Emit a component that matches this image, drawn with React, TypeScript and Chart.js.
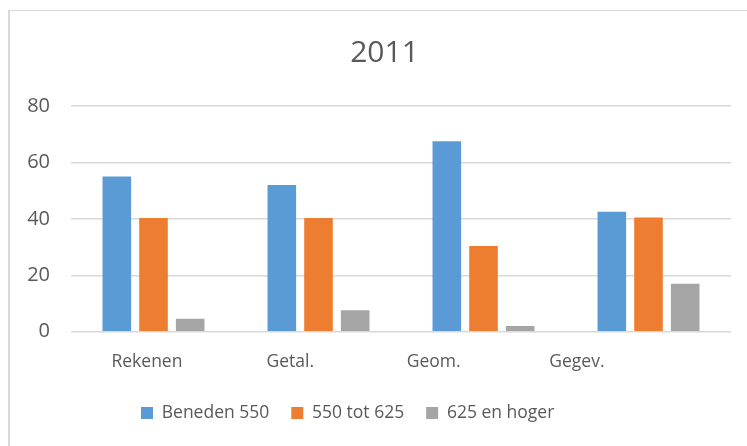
import React, { useEffect, useRef } from "react";
import { Chart, registerables } from "chart.js";

Chart.register(...registerables);

const categories = ["Rekenen", "Getal.", "Geom.", "Gegev."];
const beneden550 = [55, 52, 67.5, 42.5];
const tot625 = [40.3, 40.3, 30.4, 40.5];
const hoger625 = [4.6, 7.6, 2, 17];
const seriesNames = ["Beneden 550", "550 tot 625", "625 en hoger"];
const yTicks = [0, 20, 40, 60, 80];
const titleText = "2011";

const TEXT = "#595959";
const FONT = "'Open Sans', sans-serif";

const shiftPlugin = {
  id: "shiftBlocks",
  afterLayout(chart: any) {
    const t = chart.titleBlock;
    if (t) {
      const w = t.right - t.left;
      t.left = 19;
      t.right = 19 + w;
    }
    const l = chart.legend;
    if (l && l.lineWidths) {
      const w = l.right - l.left;
      const p = l.options.labels.padding;
      const LW = l.lineWidths[0];
      const L = (2 * 141 - p - w + LW) / 2;
      l.left = L;
      l.right = L + w;
      const h = l.bottom - l.top;
      l.top = 413 - p - l.options.labels.font.size / 2;
      l.bottom = l.top + h;
    }
  },
};

export default function App() {
  const ref = useRef<HTMLCanvasElement | null>(null);

  useEffect(() => {
    if (!ref.current) return;
    const chart = new Chart(ref.current, {
      type: "bar",
      data: {
        labels: categories,
        datasets: [
          { label: seriesNames[0], data: beneden550, backgroundColor: "#5B9BD5" },
          { label: seriesNames[1], data: tot625, backgroundColor: "#ED7D31" },
          { label: seriesNames[2], data: hoger625, backgroundColor: "#A5A5A5" },
        ],
      },
      options: {
        responsive: false,
        animation: false,
        datasets: { bar: { categoryPercentage: 0.667, barPercentage: 0.78 } },
        layout: { padding: { left: 0, right: 16, top: 0, bottom: 13 } },
        plugins: {
          title: {
            display: true,
            text: titleText,
            color: TEXT,
            font: { family: FONT, size: 30, weight: "normal" },
            padding: { top: 35, bottom: 35 },
          },
          legend: {
            position: "bottom",
            labels: {
              color: TEXT,
              font: { family: FONT, size: 17.5 },
              boxWidth: 12,
              boxHeight: 12,
              padding: 22,
            },
          },
          tooltip: { enabled: false },
        },
        scales: {
          x: {
            display: false,
          },
          xl: {
            type: "linear",
            position: "bottom",
            offset: false,
            bounds: "data",
            min: -0.53,
            max: 4.075,
            afterBuildTicks(scale: any) {
              scale.ticks = categories.map((_, i) => ({ value: i }));
            },
            grid: { display: false, drawTicks: false, offset: false },
            border: { display: false },
            ticks: {
              color: TEXT,
              font: { family: FONT, size: 17.5 },
              padding: 20,
              autoSkip: false,
              maxRotation: 0,
              callback: (v: any) => categories[v as number] ?? "",
            },
            afterFit(scale: any) {
              scale.height = 51.8;
            },
          },
          y: {
            min: 0,
            max: 80,
            afterBuildTicks(scale: any) {
              scale.ticks = yTicks.map((v) => ({ value: v }));
            },
            grid: { color: "#d9d9d9", lineWidth: 1.5, drawTicks: false },
            border: { display: false },
            ticks: { color: TEXT, font: { family: FONT, size: 20 }, padding: 21 },
            afterFit(scale: any) {
              scale.width = 71;
            },
          },
        },
      },
      plugins: [shiftPlugin],
    });
    return () => chart.destroy();
  }, []);

  return (
    <div
      style={{
        position: "fixed",
        left: 0,
        top: 0,
        width: 747,
        height: 446,
        background: "#fff",
        overflow: "hidden",
      }}
    >
      <div
        style={{
          position: "absolute",
          left: 8,
          top: 10,
          width: 800,
          height: 500,
          borderTop: "1px solid #d9d9d9",
          borderLeft: "2px solid #d9d9d9",
        }}
      />
      <canvas
        ref={ref}
        width={747}
        height={446}
        style={{ position: "absolute", left: 0, top: 0, width: 747, height: 446 }}
      />
    </div>
  );
}
